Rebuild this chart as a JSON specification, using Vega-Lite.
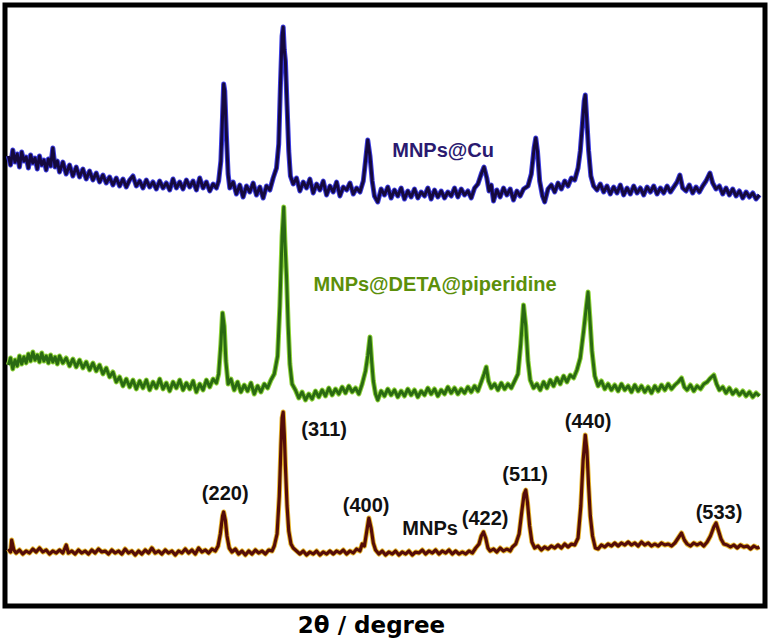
{
"$schema":"https://vega.github.io/schema/vega-lite/v6.json",
"width":760,"height":601,"autosize":"none",
"padding":{"left":5,"top":5,"right":5,"bottom":35},
"background":"white",
"config":{"view":{"stroke":"black","strokeWidth":5}},
"datasets":{
"cu":[{"x":10.7,"y":450},{"x":10.9,"y":441},{"x":11.1,"y":456},{"x":11.3,"y":444},{"x":11.5,"y":452},{"x":11.7,"y":439},{"x":11.9,"y":454},{"x":12.1,"y":445},{"x":12.3,"y":449},{"x":12.5,"y":438},{"x":12.7,"y":451},{"x":12.9,"y":443},{"x":13.1,"y":448},{"x":13.3,"y":437},{"x":13.5,"y":450},{"x":13.7,"y":441},{"x":13.9,"y":446},{"x":14.1,"y":436},{"x":14.3,"y":447},{"x":14.5,"y":440},{"x":14.7,"y":458},{"x":14.9,"y":439},{"x":15.1,"y":445},{"x":15.3,"y":434},{"x":15.6,"y":444},{"x":15.9,"y":432},{"x":16.2,"y":441},{"x":16.5,"y":430},{"x":16.8,"y":439},{"x":17.1,"y":429},{"x":17.4,"y":437},{"x":17.7,"y":427},{"x":18.0,"y":435},{"x":18.3,"y":426},{"x":18.6,"y":433},{"x":18.9,"y":424},{"x":19.2,"y":431},{"x":19.5,"y":423},{"x":19.8,"y":429},{"x":20.1,"y":421},{"x":20.4,"y":428},{"x":20.7,"y":420},{"x":21.0,"y":427},{"x":21.3,"y":419},{"x":21.6,"y":426},{"x":21.9,"y":430},{"x":22.2,"y":420},{"x":22.5,"y":425},{"x":22.8,"y":418},{"x":23.1,"y":426},{"x":23.4,"y":419},{"x":23.7,"y":424},{"x":24.0,"y":417},{"x":24.3,"y":425},{"x":24.6,"y":418},{"x":24.9,"y":423},{"x":25.2,"y":416},{"x":25.5,"y":427},{"x":25.8,"y":418},{"x":26.1,"y":424},{"x":26.4,"y":417},{"x":26.7,"y":426},{"x":27.0,"y":419},{"x":27.3,"y":425},{"x":27.6,"y":416},{"x":27.9,"y":428},{"x":28.2,"y":418},{"x":28.5,"y":424},{"x":28.8,"y":415},{"x":29.1,"y":422},{"x":29.4,"y":418},{"x":29.6,"y":425},{"x":29.8,"y":445},{"x":29.95,"y":490},{"x":30.05,"y":522},{"x":30.15,"y":515},{"x":30.3,"y":470},{"x":30.45,"y":432},{"x":30.6,"y":418},{"x":30.9,"y":424},{"x":31.2,"y":412},{"x":31.5,"y":421},{"x":31.8,"y":409},{"x":32.1,"y":420},{"x":32.4,"y":414},{"x":32.7,"y":423},{"x":33.0,"y":411},{"x":33.3,"y":419},{"x":33.6,"y":408},{"x":33.9,"y":420},{"x":34.2,"y":416},{"x":34.5,"y":428},{"x":34.8,"y":438},{"x":35.0,"y":462},{"x":35.15,"y":520},{"x":35.3,"y":570},{"x":35.4,"y":579},{"x":35.5,"y":556},{"x":35.6,"y":545},{"x":35.75,"y":500},{"x":35.9,"y":455},{"x":36.05,"y":430},{"x":36.3,"y":422},{"x":36.6,"y":428},{"x":36.9,"y":415},{"x":37.2,"y":424},{"x":37.5,"y":418},{"x":37.8,"y":427},{"x":38.1,"y":413},{"x":38.4,"y":422},{"x":38.7,"y":416},{"x":39.0,"y":425},{"x":39.3,"y":411},{"x":39.6,"y":420},{"x":39.9,"y":414},{"x":40.2,"y":424},{"x":40.5,"y":410},{"x":40.8,"y":419},{"x":41.1,"y":416},{"x":41.4,"y":423},{"x":41.7,"y":412},{"x":42.0,"y":418},{"x":42.3,"y":414},{"x":42.6,"y":425},{"x":42.8,"y":445},{"x":43.0,"y":466},{"x":43.2,"y":450},{"x":43.4,"y":425},{"x":43.6,"y":410},{"x":43.9,"y":404},{"x":44.2,"y":417},{"x":44.5,"y":411},{"x":44.8,"y":419},{"x":45.1,"y":408},{"x":45.4,"y":416},{"x":45.7,"y":410},{"x":46.0,"y":418},{"x":46.3,"y":407},{"x":46.6,"y":415},{"x":46.9,"y":409},{"x":47.2,"y":417},{"x":47.5,"y":408},{"x":47.8,"y":414},{"x":48.1,"y":410},{"x":48.4,"y":418},{"x":48.7,"y":407},{"x":49.0,"y":416},{"x":49.3,"y":409},{"x":49.6,"y":415},{"x":49.9,"y":408},{"x":50.2,"y":414},{"x":50.5,"y":410},{"x":50.8,"y":418},{"x":51.1,"y":409},{"x":51.4,"y":417},{"x":51.7,"y":411},{"x":52.0,"y":415},{"x":52.3,"y":408},{"x":52.6,"y":418},{"x":52.9,"y":422},{"x":53.2,"y":432},{"x":53.45,"y":439},{"x":53.7,"y":428},{"x":53.9,"y":415},{"x":54.1,"y":421},{"x":54.3,"y":405},{"x":54.6,"y":416},{"x":54.9,"y":409},{"x":55.2,"y":418},{"x":55.5,"y":411},{"x":55.8,"y":417},{"x":56.1,"y":406},{"x":56.4,"y":415},{"x":56.7,"y":410},{"x":57.0,"y":417},{"x":57.4,"y":420},{"x":57.7,"y":432},{"x":57.95,"y":458},{"x":58.1,"y":468},{"x":58.25,"y":455},{"x":58.45,"y":425},{"x":58.7,"y":410},{"x":58.9,"y":404},{"x":59.2,"y":417},{"x":59.5,"y":421},{"x":59.8,"y":414},{"x":60.1,"y":423},{"x":60.4,"y":417},{"x":60.7,"y":425},{"x":61.0,"y":420},{"x":61.3,"y":428},{"x":61.6,"y":426},{"x":61.9,"y":438},{"x":62.1,"y":455},{"x":62.3,"y":483},{"x":62.45,"y":505},{"x":62.55,"y":511},{"x":62.7,"y":483},{"x":62.85,"y":455},{"x":63.05,"y":430},{"x":63.3,"y":420},{"x":63.6,"y":416},{"x":63.9,"y":422},{"x":64.2,"y":414},{"x":64.5,"y":420},{"x":64.8,"y":412},{"x":65.1,"y":419},{"x":65.4,"y":413},{"x":65.7,"y":421},{"x":66.0,"y":411},{"x":66.3,"y":418},{"x":66.6,"y":412},{"x":66.9,"y":420},{"x":67.2,"y":413},{"x":67.5,"y":418},{"x":67.8,"y":411},{"x":68.1,"y":419},{"x":68.4,"y":414},{"x":68.7,"y":420},{"x":69.0,"y":412},{"x":69.3,"y":418},{"x":69.6,"y":413},{"x":69.9,"y":420},{"x":70.2,"y":414},{"x":70.5,"y":419},{"x":70.8,"y":424},{"x":71.05,"y":431},{"x":71.3,"y":418},{"x":71.6,"y":415},{"x":71.9,"y":421},{"x":72.2,"y":413},{"x":72.5,"y":419},{"x":72.8,"y":414},{"x":73.1,"y":420},{"x":73.4,"y":425},{"x":73.75,"y":433},{"x":74.0,"y":423},{"x":74.3,"y":417},{"x":74.6,"y":420},{"x":74.9,"y":412},{"x":75.2,"y":418},{"x":75.5,"y":411},{"x":75.8,"y":417},{"x":76.1,"y":410},{"x":76.4,"y":415},{"x":76.7,"y":408},{"x":77.0,"y":414},{"x":77.3,"y":409},{"x":77.6,"y":413},{"x":77.9,"y":407},{"x":78.2,"y":411}],
"deta":[{"x":10.7,"y":241},{"x":10.9,"y":248},{"x":11.1,"y":237},{"x":11.3,"y":246},{"x":11.5,"y":240},{"x":11.7,"y":250},{"x":11.9,"y":242},{"x":12.1,"y":249},{"x":12.3,"y":243},{"x":12.5,"y":252},{"x":12.7,"y":245},{"x":12.9,"y":254},{"x":13.1,"y":246},{"x":13.3,"y":251},{"x":13.5,"y":244},{"x":13.7,"y":253},{"x":13.9,"y":245},{"x":14.1,"y":250},{"x":14.3,"y":243},{"x":14.5,"y":251},{"x":14.7,"y":244},{"x":14.9,"y":249},{"x":15.1,"y":242},{"x":15.3,"y":250},{"x":15.6,"y":243},{"x":15.9,"y":248},{"x":16.2,"y":240},{"x":16.5,"y":247},{"x":16.8,"y":239},{"x":17.1,"y":246},{"x":17.4,"y":238},{"x":17.7,"y":244},{"x":18.0,"y":236},{"x":18.3,"y":243},{"x":18.6,"y":235},{"x":18.9,"y":241},{"x":19.2,"y":232},{"x":19.5,"y":238},{"x":19.8,"y":229},{"x":20.1,"y":234},{"x":20.4,"y":224},{"x":20.7,"y":229},{"x":21.0,"y":220},{"x":21.3,"y":227},{"x":21.6,"y":219},{"x":21.9,"y":226},{"x":22.2,"y":217},{"x":22.5,"y":225},{"x":22.8,"y":218},{"x":23.1,"y":226},{"x":23.4,"y":216},{"x":23.7,"y":224},{"x":24.0,"y":218},{"x":24.3,"y":227},{"x":24.6,"y":217},{"x":24.9,"y":223},{"x":25.2,"y":215},{"x":25.5,"y":224},{"x":25.8,"y":218},{"x":26.1,"y":226},{"x":26.4,"y":216},{"x":26.7,"y":223},{"x":27.0,"y":217},{"x":27.3,"y":225},{"x":27.6,"y":214},{"x":27.9,"y":222},{"x":28.2,"y":216},{"x":28.5,"y":226},{"x":28.8,"y":219},{"x":29.1,"y":227},{"x":29.4,"y":223},{"x":29.6,"y":232},{"x":29.8,"y":262},{"x":29.95,"y":293},{"x":30.1,"y":280},{"x":30.25,"y":245},{"x":30.45,"y":222},{"x":30.7,"y":227},{"x":31.0,"y":216},{"x":31.3,"y":224},{"x":31.6,"y":214},{"x":31.9,"y":221},{"x":32.2,"y":215},{"x":32.5,"y":223},{"x":32.8,"y":212},{"x":33.1,"y":220},{"x":33.4,"y":214},{"x":33.7,"y":222},{"x":34.0,"y":218},{"x":34.3,"y":226},{"x":34.6,"y":232},{"x":34.9,"y":250},{"x":35.1,"y":300},{"x":35.3,"y":370},{"x":35.45,"y":399},{"x":35.55,"y":366},{"x":35.7,"y":330},{"x":35.85,"y":280},{"x":36.0,"y":242},{"x":36.2,"y":222},{"x":36.5,"y":216},{"x":36.8,"y":208},{"x":37.1,"y":214},{"x":37.4,"y":206},{"x":37.7,"y":212},{"x":38.0,"y":207},{"x":38.3,"y":215},{"x":38.6,"y":209},{"x":38.9,"y":216},{"x":39.2,"y":210},{"x":39.5,"y":218},{"x":39.8,"y":211},{"x":40.1,"y":217},{"x":40.4,"y":212},{"x":40.7,"y":219},{"x":41.0,"y":213},{"x":41.3,"y":220},{"x":41.6,"y":214},{"x":41.9,"y":218},{"x":42.2,"y":212},{"x":42.5,"y":222},{"x":42.8,"y":235},{"x":43.0,"y":250},{"x":43.2,"y":269},{"x":43.35,"y":245},{"x":43.5,"y":225},{"x":43.7,"y":212},{"x":43.9,"y":206},{"x":44.2,"y":215},{"x":44.5,"y":210},{"x":44.8,"y":217},{"x":45.1,"y":211},{"x":45.4,"y":216},{"x":45.7,"y":209},{"x":46.0,"y":215},{"x":46.3,"y":210},{"x":46.6,"y":217},{"x":46.9,"y":211},{"x":47.2,"y":216},{"x":47.5,"y":209},{"x":47.8,"y":215},{"x":48.1,"y":211},{"x":48.4,"y":218},{"x":48.7,"y":212},{"x":49.0,"y":217},{"x":49.3,"y":210},{"x":49.6,"y":216},{"x":49.9,"y":212},{"x":50.2,"y":219},{"x":50.5,"y":213},{"x":50.8,"y":218},{"x":51.1,"y":212},{"x":51.4,"y":217},{"x":51.7,"y":213},{"x":52.0,"y":219},{"x":52.3,"y":214},{"x":52.6,"y":220},{"x":52.9,"y":215},{"x":53.2,"y":224},{"x":53.45,"y":232},{"x":53.65,"y":239},{"x":53.85,"y":225},{"x":54.1,"y":218},{"x":54.4,"y":222},{"x":54.7,"y":216},{"x":55.0,"y":223},{"x":55.3,"y":217},{"x":55.6,"y":222},{"x":55.9,"y":218},{"x":56.2,"y":225},{"x":56.5,"y":232},{"x":56.75,"y":262},{"x":57.0,"y":301},{"x":57.2,"y":280},{"x":57.4,"y":245},{"x":57.6,"y":226},{"x":57.9,"y":218},{"x":58.2,"y":222},{"x":58.5,"y":216},{"x":58.8,"y":224},{"x":59.1,"y":218},{"x":59.4,"y":226},{"x":59.7,"y":220},{"x":60.0,"y":228},{"x":60.3,"y":222},{"x":60.6,"y":230},{"x":60.9,"y":224},{"x":61.2,"y":231},{"x":61.5,"y":228},{"x":61.8,"y":236},{"x":62.1,"y":248},{"x":62.4,"y":275},{"x":62.65,"y":300},{"x":62.8,"y":314},{"x":62.95,"y":290},{"x":63.15,"y":255},{"x":63.4,"y":230},{"x":63.7,"y":220},{"x":64.0,"y":225},{"x":64.3,"y":217},{"x":64.6,"y":222},{"x":64.9,"y":216},{"x":65.2,"y":221},{"x":65.5,"y":215},{"x":65.8,"y":222},{"x":66.1,"y":216},{"x":66.4,"y":220},{"x":66.7,"y":214},{"x":67.0,"y":221},{"x":67.3,"y":215},{"x":67.6,"y":220},{"x":67.9,"y":214},{"x":68.2,"y":219},{"x":68.5,"y":213},{"x":68.8,"y":220},{"x":69.1,"y":215},{"x":69.4,"y":221},{"x":69.7,"y":216},{"x":70.0,"y":222},{"x":70.3,"y":217},{"x":70.6,"y":221},{"x":70.9,"y":224},{"x":71.2,"y":228},{"x":71.45,"y":219},{"x":71.7,"y":216},{"x":72.0,"y":221},{"x":72.3,"y":215},{"x":72.6,"y":220},{"x":72.9,"y":217},{"x":73.2,"y":222},{"x":73.5,"y":224},{"x":73.8,"y":228},{"x":74.1,"y":231},{"x":74.35,"y":222},{"x":74.6,"y":216},{"x":74.9,"y":219},{"x":75.2,"y":213},{"x":75.5,"y":218},{"x":75.8,"y":212},{"x":76.1,"y":216},{"x":76.4,"y":211},{"x":76.7,"y":215},{"x":77.0,"y":210},{"x":77.3,"y":214},{"x":77.6,"y":209},{"x":77.9,"y":213},{"x":78.2,"y":210}],
"mnp":[{"x":10.7,"y":57},{"x":10.9,"y":54},{"x":11.0,"y":66},{"x":11.2,"y":56},{"x":11.4,"y":53},{"x":11.7,"y":56},{"x":12.0,"y":52},{"x":12.3,"y":55},{"x":12.6,"y":53},{"x":12.9,"y":57},{"x":13.2,"y":54},{"x":13.5,"y":58},{"x":13.8,"y":54},{"x":14.1,"y":56},{"x":14.4,"y":52},{"x":14.7,"y":55},{"x":15.0,"y":53},{"x":15.3,"y":56},{"x":15.6,"y":53},{"x":15.9,"y":61},{"x":16.1,"y":53},{"x":16.4,"y":55},{"x":16.7,"y":52},{"x":17.0,"y":56},{"x":17.3,"y":53},{"x":17.6,"y":55},{"x":17.9,"y":52},{"x":18.2,"y":56},{"x":18.5,"y":53},{"x":18.8,"y":57},{"x":19.1,"y":54},{"x":19.4,"y":55},{"x":19.7,"y":52},{"x":20.0,"y":56},{"x":20.3,"y":53},{"x":20.6,"y":55},{"x":20.9,"y":52},{"x":21.2,"y":57},{"x":21.5,"y":53},{"x":21.8,"y":55},{"x":22.1,"y":51},{"x":22.4,"y":55},{"x":22.7,"y":52},{"x":23.0,"y":56},{"x":23.3,"y":53},{"x":23.6,"y":58},{"x":23.9,"y":53},{"x":24.2,"y":55},{"x":24.5,"y":52},{"x":24.8,"y":56},{"x":25.1,"y":53},{"x":25.4,"y":55},{"x":25.7,"y":51},{"x":26.0,"y":55},{"x":26.3,"y":53},{"x":26.6,"y":57},{"x":26.9,"y":53},{"x":27.2,"y":56},{"x":27.5,"y":52},{"x":27.8,"y":58},{"x":28.1,"y":54},{"x":28.4,"y":56},{"x":28.7,"y":53},{"x":29.0,"y":57},{"x":29.3,"y":55},{"x":29.55,"y":60},{"x":29.75,"y":72},{"x":29.95,"y":90},{"x":30.05,"y":94},{"x":30.2,"y":86},{"x":30.35,"y":70},{"x":30.55,"y":58},{"x":30.8,"y":54},{"x":31.1,"y":57},{"x":31.4,"y":52},{"x":31.7,"y":55},{"x":32.0,"y":51},{"x":32.3,"y":55},{"x":32.6,"y":52},{"x":32.9,"y":56},{"x":33.2,"y":53},{"x":33.5,"y":55},{"x":33.8,"y":52},{"x":34.1,"y":56},{"x":34.4,"y":55},{"x":34.6,"y":60},{"x":34.85,"y":72},{"x":35.05,"y":110},{"x":35.2,"y":160},{"x":35.3,"y":188},{"x":35.4,"y":194},{"x":35.5,"y":172},{"x":35.6,"y":140},{"x":35.75,"y":100},{"x":35.9,"y":75},{"x":36.1,"y":62},{"x":36.3,"y":58},{"x":36.6,"y":55},{"x":36.9,"y":52},{"x":37.2,"y":55},{"x":37.5,"y":51},{"x":37.8,"y":54},{"x":38.1,"y":52},{"x":38.4,"y":55},{"x":38.7,"y":51},{"x":39.0,"y":54},{"x":39.3,"y":52},{"x":39.6,"y":55},{"x":39.9,"y":52},{"x":40.2,"y":55},{"x":40.5,"y":53},{"x":40.8,"y":56},{"x":41.1,"y":52},{"x":41.4,"y":55},{"x":41.7,"y":53},{"x":42.0,"y":57},{"x":42.3,"y":55},{"x":42.5,"y":62},{"x":42.7,"y":60},{"x":42.9,"y":74},{"x":43.1,"y":88},{"x":43.3,"y":78},{"x":43.5,"y":63},{"x":43.7,"y":56},{"x":44.0,"y":52},{"x":44.3,"y":55},{"x":44.6,"y":51},{"x":44.9,"y":54},{"x":45.2,"y":52},{"x":45.5,"y":55},{"x":45.8,"y":51},{"x":46.1,"y":54},{"x":46.4,"y":52},{"x":46.7,"y":55},{"x":47.0,"y":51},{"x":47.3,"y":54},{"x":47.6,"y":53},{"x":47.9,"y":56},{"x":48.2,"y":52},{"x":48.5,"y":55},{"x":48.8,"y":53},{"x":49.1,"y":56},{"x":49.4,"y":52},{"x":49.7,"y":55},{"x":50.0,"y":53},{"x":50.3,"y":56},{"x":50.6,"y":52},{"x":50.9,"y":55},{"x":51.2,"y":52},{"x":51.5,"y":54},{"x":51.8,"y":52},{"x":52.1,"y":55},{"x":52.4,"y":53},{"x":52.7,"y":58},{"x":53.0,"y":62},{"x":53.2,"y":70},{"x":53.4,"y":74},{"x":53.6,"y":68},{"x":53.8,"y":58},{"x":54.0,"y":55},{"x":54.3,"y":57},{"x":54.6,"y":54},{"x":54.9,"y":58},{"x":55.2,"y":55},{"x":55.5,"y":57},{"x":55.8,"y":55},{"x":56.0,"y":59},{"x":56.3,"y":62},{"x":56.6,"y":72},{"x":56.85,"y":95},{"x":57.05,"y":112},{"x":57.2,"y":116},{"x":57.35,"y":104},{"x":57.55,"y":80},{"x":57.75,"y":64},{"x":58.0,"y":58},{"x":58.3,"y":60},{"x":58.6,"y":56},{"x":58.9,"y":59},{"x":59.2,"y":57},{"x":59.5,"y":60},{"x":59.8,"y":58},{"x":60.1,"y":61},{"x":60.4,"y":58},{"x":60.7,"y":62},{"x":61.0,"y":59},{"x":61.3,"y":62},{"x":61.6,"y":61},{"x":61.9,"y":68},{"x":62.15,"y":100},{"x":62.35,"y":145},{"x":62.55,"y":171},{"x":62.7,"y":155},{"x":62.85,"y":120},{"x":63.0,"y":90},{"x":63.2,"y":70},{"x":63.45,"y":58},{"x":63.7,"y":57},{"x":64.0,"y":61},{"x":64.3,"y":59},{"x":64.6,"y":62},{"x":64.9,"y":60},{"x":65.2,"y":63},{"x":65.5,"y":60},{"x":65.8,"y":63},{"x":66.1,"y":61},{"x":66.4,"y":64},{"x":66.7,"y":61},{"x":67.0,"y":63},{"x":67.3,"y":60},{"x":67.6,"y":64},{"x":67.9,"y":61},{"x":68.2,"y":63},{"x":68.5,"y":60},{"x":68.8,"y":62},{"x":69.1,"y":60},{"x":69.4,"y":63},{"x":69.7,"y":61},{"x":70.0,"y":62},{"x":70.3,"y":60},{"x":70.6,"y":63},{"x":70.9,"y":68},{"x":71.2,"y":73},{"x":71.45,"y":66},{"x":71.7,"y":62},{"x":72.0,"y":60},{"x":72.3,"y":63},{"x":72.6,"y":61},{"x":72.9,"y":63},{"x":73.2,"y":60},{"x":73.5,"y":64},{"x":73.8,"y":70},{"x":74.1,"y":79},{"x":74.3,"y":83},{"x":74.5,"y":76},{"x":74.75,"y":67},{"x":75.0,"y":62},{"x":75.3,"y":61},{"x":75.6,"y":59},{"x":75.9,"y":61},{"x":76.2,"y":58},{"x":76.5,"y":61},{"x":76.8,"y":59},{"x":77.1,"y":60},{"x":77.4,"y":57},{"x":77.7,"y":60},{"x":78.0,"y":58},{"x":78.2,"y":59}],
"labels":[{"x":49.77,"y":455,"text":"MNPs@Cu","group":"Cu"},{"x":49.05,"y":321,"text":"MNPs@DETA@piperidine","group":"DETA"},{"x":30.19,"y":112,"text":"(220)","group":"hkl"},{"x":39.08,"y":176,"text":"(311)","group":"hkl"},{"x":42.85,"y":100,"text":"(400)","group":"hkl"},{"x":48.6,"y":77,"text":"MNPs","group":"hkl"},{"x":53.55,"y":87,"text":"(422)","group":"hkl"},{"x":57.14,"y":131,"text":"(511)","group":"hkl"},{"x":62.8,"y":184,"text":"(440)","group":"hkl"},{"x":74.57,"y":93,"text":"(533)","group":"hkl"}]
},
"encoding":{
"x":{"field":"x","type":"quantitative","scale":{"domain":[10.4,78.7],"nice":false,"zero":false},"title":"2θ / degree","axis":{"labels":false,"ticks":false,"domain":false,"grid":false,"titleFont":"DejaVu Sans","titleFontSize":23,"titleFontWeight":"bold","titleColor":"black","titleX":366,"titleY":19,"titleBaseline":"middle","titleAlign":"center","titleAnchor":null}},
"y":{"field":"y","type":"quantitative","scale":{"domain":[0,601],"nice":false,"zero":false},"axis":null}
},
"layer":[
{"data":{"name":"cu"},"mark":{"type":"line","color":"#3c3ce0","strokeWidth":5,"strokeJoin":"round"}},
{"data":{"name":"cu"},"mark":{"type":"line","color":"#15093e","strokeWidth":3,"strokeJoin":"round"}},
{"data":{"name":"deta"},"mark":{"type":"line","color":"#8fd43a","strokeWidth":5,"strokeJoin":"round"}},
{"data":{"name":"deta"},"mark":{"type":"line","color":"#2a6a12","strokeWidth":3,"strokeJoin":"round"}},
{"data":{"name":"mnp"},"mark":{"type":"line","color":"#e8b830","strokeWidth":5,"strokeJoin":"round"}},
{"data":{"name":"mnp"},"mark":{"type":"line","color":"#550d08","strokeWidth":3.2,"strokeJoin":"round"}},
{"data":{"name":"labels"},"mark":{"type":"text","font":"Liberation Sans","fontSize":20,"fontWeight":"bold","baseline":"middle","align":"center"},
 "encoding":{"text":{"field":"text","type":"nominal"},"color":{"field":"group","type":"nominal","scale":{"domain":["Cu","DETA","hkl"],"range":["#2a1a70","#5c8f0a","#111111"]},"legend":null}}}
]
}
